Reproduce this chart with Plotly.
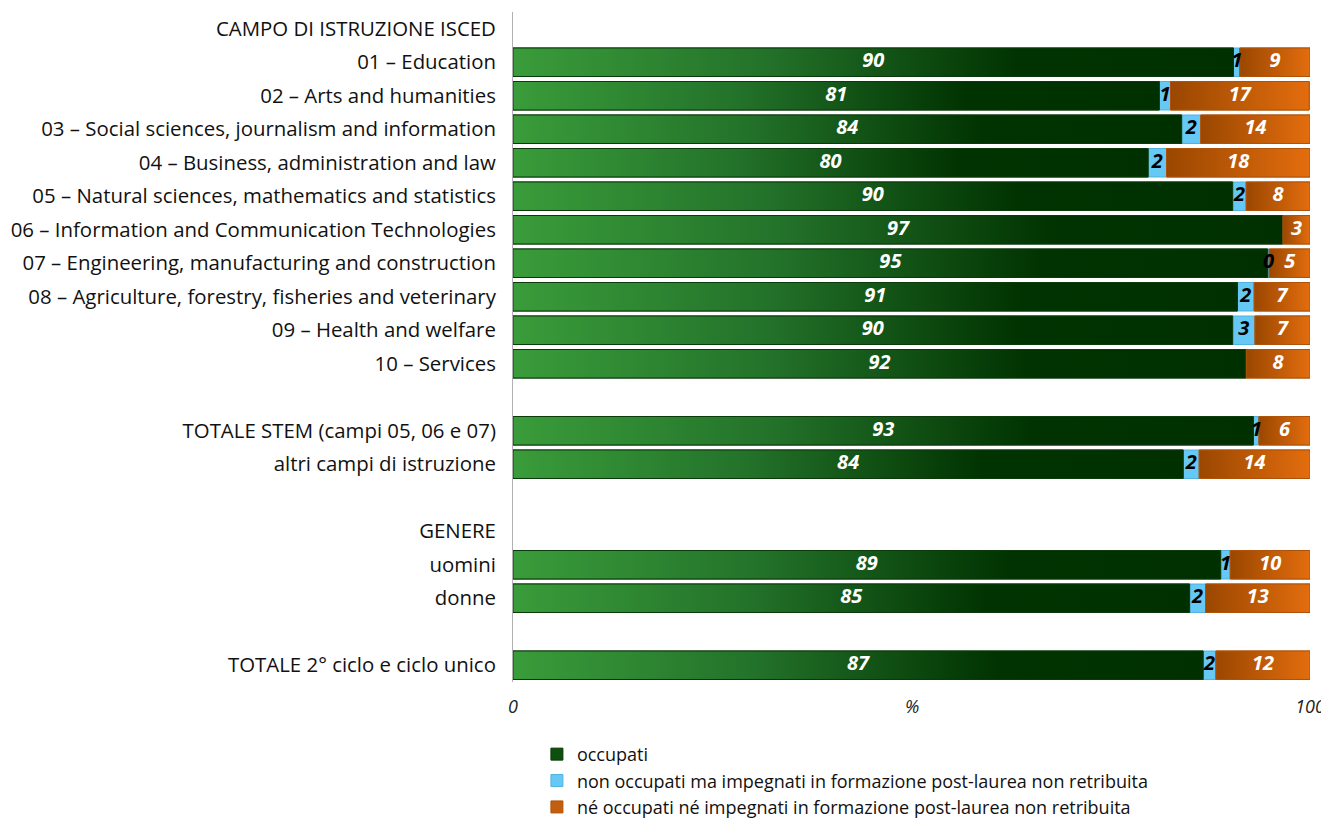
import plotly.graph_objects as go

# ---------------- data ----------------
categories = [
    "CAMPO DI ISTRUZIONE ISCED",
    "01 – Education",
    "02 – Arts and humanities",
    "03 – Social sciences, journalism and information",
    "04 – Business, administration and law",
    "05 – Natural sciences, mathematics and statistics",
    "06 – Information and Communication Technologies",
    "07 – Engineering, manufacturing and construction",
    "08 – Agriculture, forestry, fisheries and veterinary",
    "09 – Health and welfare",
    "10 – Services",
    "",
    "TOTALE STEM (campi 05, 06 e 07)",
    "altri campi di istruzione",
    " ",
    "GENERE",
    "uomini",
    "donne",
    "  ",
    "TOTALE 2° ciclo e ciclo unico",
]
occupati = [None, 90.4, 81.1, 83.9, 79.7, 90.3, 96.6, 94.7, 90.9, 90.3, 92.0,
            None, 92.9, 84.1, None, None, 88.8, 84.9, None, 86.6]
formazione = [None, 0.8, 1.4, 2.4, 2.3, 1.7, None, 0.2, 2.1, 2.8, None,
              None, 0.7, 2.0, None, None, 1.2, 2.0, None, 1.6]
ne_occ_ne_form = [None, 8.8, 17.4, 13.7, 18.0, 8.0, 3.4, 5.1, 7.0, 6.9, 8.0,
                  None, 6.4, 13.9, None, None, 10.0, 13.1, None, 11.8]
series_names = [
    "occupati",
    "non occupati ma impegnati in formazione post-laurea non retribuita",
    "né occupati né impegnati in formazione post-laurea non retribuita",
]
x_ticks = [0, 100]
x_ticklabels = ["0", "100"]

# ---------------- style ----------------
FONT = "'Open Sans', Lato, sans-serif"
GREEN_SOLID = "#0d4f0d"
BLUE_SOLID = "#66c8f5"
ORANGE_SOLID = "#c45e0c"
GREEN_SCALE = [[0, "#3a9c3a"], [0.35, "#23722a"], [0.7, "#013301"], [1, "#003000"]]
ORANGE_SCALE = [[0, "#9a4700"], [1, "#e36d0e"]]
HALF = 0.425

ypos = list(range(len(categories)))

def v(a):
    return [0 if x is None else x for x in a]

fig = go.Figure()

# base stacked bars (legend + library-drawn marks)
fig.add_trace(go.Bar(
    y=ypos, x=occupati, orientation="h", name=series_names[0], legendgroup="a",
    marker=dict(color=GREEN_SOLID, line=dict(color="#0b3a0b", width=1)),
    width=2 * HALF, hoverinfo="skip",
))
fig.add_trace(go.Bar(
    y=ypos, x=formazione, base=v(occupati), orientation="h", name=series_names[1],
    legendgroup="b",
    marker=dict(color=BLUE_SOLID, line=dict(color="#4fb3e0", width=1)),
    width=2 * HALF, hoverinfo="skip",
))
base3 = [a + b for a, b in zip(v(occupati), v(formazione))]
fig.add_trace(go.Bar(
    y=ypos, x=ne_occ_ne_form, base=base3, orientation="h", name=series_names[2],
    legendgroup="c",
    marker=dict(color=ORANGE_SOLID, line=dict(color="#b0530a", width=1)),
    width=2 * HALF, hoverinfo="skip",
))

# gradient overlays derived from the same data
def grad_rect(x0, x1, y, scale, line_col):
    fig.add_trace(go.Scatter(
        x=[x0, x1, x1, x0, x0],
        y=[y - HALF, y - HALF, y + HALF, y + HALF, y - HALF],
        mode="lines", fill="toself",
        fillgradient=dict(type="horizontal", colorscale=scale, start=x0, stop=x1),
        line=dict(color=line_col, width=1),
        showlegend=False, hoverinfo="skip",
    ))

for i, y in enumerate(ypos):
    if occupati[i] is not None:
        grad_rect(0, occupati[i], y, GREEN_SCALE, "#0b3a0b")
    if ne_occ_ne_form[i] is not None:
        grad_rect(base3[i], base3[i] + ne_occ_ne_form[i], y, ORANGE_SCALE, "#b0530a")

# value labels
def labels(vals, bases, color):
    xs, ys, ts = [], [], []
    for i, val in enumerate(vals):
        if val is None:
            continue
        xs.append(bases[i] + val / 2)
        ys.append(ypos[i])
        ts.append(f"{val:.0f}")
    fig.add_trace(go.Scatter(
        x=xs, y=ys, text=ts, mode="text", textposition="middle center",
        textfont=dict(family=FONT, size=20, color=color, weight="bold", style="italic"),
        showlegend=False, hoverinfo="skip",
    ))

labels(occupati, [0] * len(ypos), "white")
labels(formazione, v(occupati), "black")
labels(ne_occ_ne_form, base3, "white")

fig.update_layout(
    width=1321, height=813,
    margin=dict(l=505, r=19, t=4, b=139, autoexpand=False),
    barmode="overlay",
    plot_bgcolor="white", paper_bgcolor="white",
    font=dict(family=FONT, size=18, color="#111111"),
    showlegend=True,
    legend=dict(
        x=0.03, y=-0.0805, xanchor="left", yanchor="top",
        font=dict(family=FONT, size=18, color="#111111"),
        traceorder="grouped", itemwidth=30, tracegroupgap=0,
        bgcolor="rgba(0,0,0,0)",
    ),
    xaxis=dict(
        range=[0, 100], tickvals=x_ticks, ticktext=x_ticklabels,
        showgrid=False, zeroline=False, showline=False, ticks="",
        tickfont=dict(family=FONT, size=18, color="#222222", style="italic"),
        ticklabelstandoff=12, fixedrange=True, automargin=False,
    ),
    yaxis=dict(
        range=[len(categories) - 0.5, -0.5], tickvals=ypos, ticktext=categories,
        showgrid=False, zeroline=False, showline=True, linecolor="#b0b0b0", linewidth=1,
        ticks="", ticklabelstandoff=12, automargin=False,
        tickfont=dict(family=FONT, size=20.4, color="#111111"), fixedrange=True,
    ),
    annotations=[dict(
        x=50, y=0, xref="x", yref="paper", yshift=-24, text="%", showarrow=False,
        font=dict(family=FONT, size=18, color="#222222", style="italic"),
        yanchor="middle",
    )],
)

fig.write_html("out.html")
